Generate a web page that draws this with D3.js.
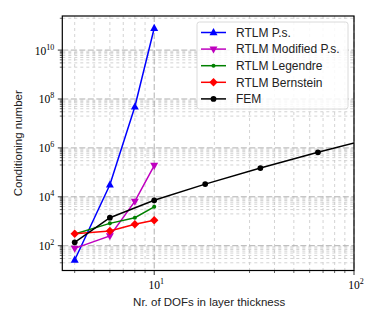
<!DOCTYPE html>
<html>
<head>
<meta charset="utf-8">
<script src="https://cdn.jsdelivr.net/npm/d3@7"></script>
<style>
  body { margin: 0; background: #fff; }
  svg { display: block; }
</style>
</head>
<body>
<div id="chart"></div>
<script>
// data
const dofs = [4, 6, 8, 10];
const psVals = [26, 3.1e4, 4.8e7, 7.8e10];
const modVals = [78, 250, 6500, 1.9e5];
const legVals = [300, 820, 1400, 3900];
const bernVals = [310, 400, 750, 1100];
const femDofs = [4, 6, 10, 18, 34, 66, 130];
const femVals = [138, 1400, 7200, 3.3e4, 1.5e5, 6.6e5, 2.8e6];

const seriesNames = ["RTLM P.s.", "RTLM Modified P.s.", "RTLM Legendre", "RTLM Bernstein", "FEM"];
const seriesColors = ["#0000ff", "#bf00bf", "#008000", "#ff0000", "#000000"];
const seriesMarkers = ["triUp", "triDown", "dot", "diamond", "circle"];

const W = 380, H = 322;
const margin = { top: 16, right: 26, bottom: 51.5, left: 62.3 };
const width = W - margin.left - margin.right,
  height = H - margin.top - margin.bottom;

const svg = d3.select("#chart").append("svg")
  .attr("width", W).attr("height", H);

const g = svg.append("g")
  .attr("transform", `translate(${margin.left}, ${margin.top})`);

const x = d3.scaleLog().domain([Math.pow(10, 0.54), 100]).range([0, width]);
const y = d3.scaleLog().domain([Math.pow(10, 0.986), Math.pow(10, 11.394)]).range([height, 0]);

// tick positions
const xMajor = [10, 100];
const xMinor = [];
[1, 10].forEach(d => { for (let k = 2; k <= 9; k++) { const v = k * d; if (v >= x.domain()[0] && v <= 100) xMinor.push(v); } });
const yMajor = [2, 4, 6, 8, 10].map(e => Math.pow(10, e));
const yMinor = [];
[1, 3, 5, 7, 9, 11].forEach(e => { for (let k = 2; k <= 9; k++) { const v = k * Math.pow(10, e); if (v >= y.domain()[0] && v <= y.domain()[1]) yMinor.push(v); } });

// grid
const grid = g.append("g");
grid.selectAll(".gxm").data(xMinor).join("line")
  .attr("x1", d => x(d)).attr("x2", d => x(d)).attr("y1", 0).attr("y2", height)
  .attr("stroke", "#c8c8c8").attr("stroke-width", 0.8).attr("stroke-dasharray", "3,3");
grid.selectAll(".gym").data(yMinor).join("line")
  .attr("x1", 0).attr("x2", width).attr("y1", d => y(d)).attr("y2", d => y(d))
  .attr("stroke", "#c8c8c8").attr("stroke-width", 0.8).attr("stroke-dasharray", "3,3");
grid.selectAll(".gx").data(xMajor).join("line")
  .attr("x1", d => x(d)).attr("x2", d => x(d)).attr("y1", 0).attr("y2", height)
  .attr("stroke", "#b0b0b0").attr("stroke-width", 1).attr("stroke-dasharray", "6,2.5");
grid.selectAll(".gy").data(yMajor).join("line")
  .attr("x1", 0).attr("x2", width).attr("y1", d => y(d)).attr("y2", d => y(d))
  .attr("stroke", "#b0b0b0").attr("stroke-width", 1).attr("stroke-dasharray", "6,2.5");

// series
const series = [
  { x: dofs, y: psVals },
  { x: dofs, y: modVals },
  { x: dofs, y: legVals },
  { x: dofs, y: bernVals },
  { x: femDofs, y: femVals }
];

svg.append("defs").append("clipPath").attr("id", "clip")
  .append("rect").attr("width", width).attr("height", height);

function markerPath(type) {
  switch (type) {
    case "triUp": return "M0,-4.4L4,2.7L-4,2.7Z";
    case "triDown": return "M0,4.4L4,-2.7L-4,-2.7Z";
    case "diamond": return "M0,-4.2L4.2,0L0,4.2L-4.2,0Z";
    case "dot": return d3.symbol(d3.symbolCircle, 13)();
    default: return d3.symbol(d3.symbolCircle, 26)();
  }
}

const line = d3.line().x(d => x(d[0])).y(d => y(d[1]));
const plot = g.append("g").attr("clip-path", "url(#clip)");
series.forEach((s, i) => {
  const pts = s.x.map((v, j) => [v, s.y[j]]);
  plot.append("path").datum(pts)
    .attr("d", line)
    .attr("fill", "none")
    .attr("stroke", seriesColors[i])
    .attr("stroke-width", 1.5);
  plot.selectAll(null).data(pts).join("path")
    .attr("transform", d => `translate(${x(d[0])}, ${y(d[1])})`)
    .attr("d", markerPath(seriesMarkers[i]))
    .attr("fill", seriesColors[i]);
});

// axes frame
g.append("rect").attr("width", width).attr("height", height)
  .attr("fill", "none").attr("stroke", "#000").attr("stroke-width", 1.2);

// ticks
const ticks = g.append("g").attr("stroke", "#000").attr("stroke-width", 0.8);
xMajor.forEach(d => ticks.append("line").attr("x1", x(d)).attr("x2", x(d)).attr("y1", height).attr("y2", height + 4.5));
xMinor.forEach(d => ticks.append("line").attr("x1", x(d)).attr("x2", x(d)).attr("y1", height).attr("y2", height + 2.5).attr("stroke-width", 0.6));
yMajor.forEach(d => ticks.append("line").attr("y1", y(d)).attr("y2", y(d)).attr("x1", 0).attr("x2", -4.5));
yMinor.forEach(d => ticks.append("line").attr("y1", y(d)).attr("y2", y(d)).attr("x1", 0).attr("x2", -2.5).attr("stroke-width", 0.6));

const serif = "'Liberation Serif', 'DejaVu Serif', serif";
function powLabel(sel, e) {
  sel.append("tspan").text("10");
  sel.append("tspan").attr("font-size", 8).attr("dy", -5).text(e);
}
xMajor.forEach(d => {
  const t = g.append("text").attr("x", x(d) + 2).attr("y", height + 18)
    .attr("text-anchor", "middle").attr("font-family", serif).attr("font-size", 11.5);
  powLabel(t, Math.round(Math.log10(d)));
});
yMajor.forEach(d => {
  const t = g.append("text").attr("x", -8).attr("y", y(d) + 4.5)
    .attr("text-anchor", "end").attr("font-family", serif).attr("font-size", 11.5);
  powLabel(t, Math.round(Math.log10(d)));
});

const sans = "'Liberation Sans', Arial, sans-serif";
svg.append("text").attr("x", margin.left + width / 2 + 1).attr("y", 305.5)
  .attr("text-anchor", "middle").attr("font-family", sans).attr("font-size", 11.5)
  .attr("fill", "#222")
  .text("Nr. of DOFs in layer thickness");
svg.append("text").attr("transform", `translate(21.5, ${margin.top + height / 2}) rotate(-90)`)
  .attr("text-anchor", "middle").attr("font-family", sans).attr("font-size", 11.5)
  .attr("fill", "#222")
  .text("Conditioning number");

// legend
const legend = svg.append("g").attr("transform", "translate(197, 22)");
legend.append("rect").attr("width", 151).attr("height", 87).attr("rx", 2.5)
  .attr("fill", "#fff").attr("fill-opacity", 0.85).attr("stroke", "#d0d0d0").attr("stroke-width", 0.8);
seriesNames.forEach((name, i) => {
  const yy = 10.5 + i * 16.6;
  legend.append("line").attr("x1", 4).attr("x2", 29).attr("y1", yy).attr("y2", yy)
    .attr("stroke", seriesColors[i]).attr("stroke-width", 1.5);
  legend.append("path").attr("transform", `translate(16.5, ${yy})`)
    .attr("d", markerPath(seriesMarkers[i])).attr("fill", seriesColors[i]);
  legend.append("text").attr("x", 39).attr("y", yy + 4.2)
    .attr("font-family", sans).attr("font-size", 12).attr("fill", "#222").text(name);
});
</script>
</body>
</html>
